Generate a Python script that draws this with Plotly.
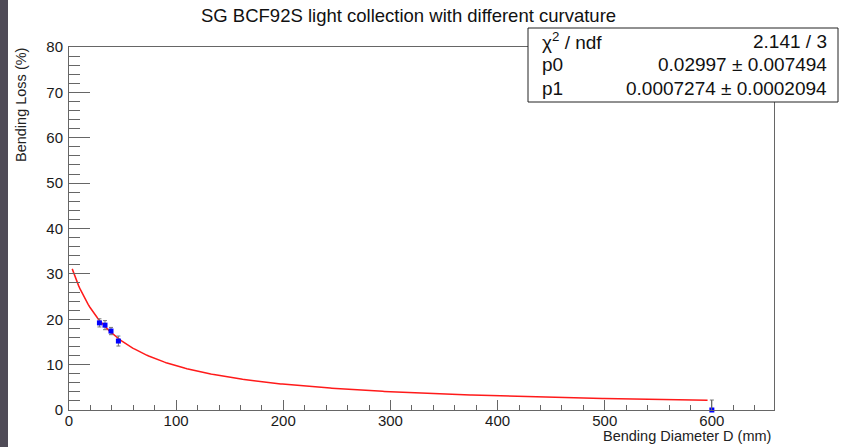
import numpy as np
import plotly.graph_objects as go

# Measured bending loss versus bending diameter
diameter_mm = [28.4, 33.6, 39.2, 46.1, 600.0]
loss_pct = [19.2, 18.7, 17.4, 15.2, 0.0]
loss_err = [0.9, 1.0, 0.8, 1.1, 2.2]

# Fit result: f(D) = 1 / (p0 + p1 * D)
p0, p0_err = 0.02997, 0.007494
p1, p1_err = 0.0007274, 0.0002094
chi2, ndf = 2.141, 3
fit_range = (3.0, 596.0)

x_ticks = [0, 100, 200, 300, 400, 500, 600]
y_ticks = [0, 10, 20, 30, 40, 50, 60, 70, 80]

FONT = "Liberation Sans, Arial, Helvetica, sans-serif"
W, H = 846, 447
ML, MR, MT, MB = 69, 72, 47, 37
PW, PH = W - ML - MR, H - MT - MB


def px(xp):
    return (xp - ML) / PW


def py(yp):
    return (H - MB - yp) / PH


d_fit = np.linspace(fit_range[0], fit_range[1], 400)
f_fit = 1.0 / (p0 + p1 * d_fit)

fig = go.Figure()
fig.add_trace(go.Scatter(
    x=d_fit, y=f_fit, mode="lines",
    line=dict(color="#ff1a1a", width=1.5),
    hoverinfo="skip", showlegend=False,
))
fig.add_trace(go.Scatter(
    x=diameter_mm, y=loss_pct, mode="markers",
    marker=dict(symbol="square", size=5, color="#0000ff"),
    error_y=dict(type="data", array=loss_err, color="#777777",
                 thickness=1, width=2),
    showlegend=False, cliponaxis=False,
))

axis_common = dict(
    showgrid=False, zeroline=False, showline=True, mirror=True,
    linecolor="#666666", linewidth=1, ticks="inside", tickcolor="#666666",
    tickfont=dict(family=FONT, size=15, color="#1a1a1a"),
)
fig.update_xaxes(
    range=[0, 658], tickvals=x_ticks, ticklen=10,
    minor=dict(ticks="inside", dtick=20, ticklen=5, tickcolor="#666666"),
    ticklabelstandoff=-3,
    **axis_common,
)
fig.update_yaxes(
    range=[0, 80], tickvals=y_ticks, ticklen=21,
    minor=dict(ticks="inside", dtick=2, ticklen=11, tickcolor="#666666"),
    ticklabelstandoff=2,
    **axis_common,
)

shapes = [
    # dark strip along the left edge of the canvas
    dict(type="rect", xref="paper", yref="paper",
         x0=px(0), x1=px(8), y0=py(H), y1=py(0),
         fillcolor="#4f4b57", line=dict(width=0), layer="above"),
    # fit statistics box
    dict(type="rect", xref="paper", yref="paper",
         x0=px(528), x1=px(838), y0=py(102), y1=py(28),
         fillcolor="white", line=dict(color="#222222", width=1), layer="above"),
]

stat_font = dict(family=FONT, size=19, color="#111111")
rows = [
    ("χ<sup>2</sup> / ndf", f"{chi2:.3f} / {ndf}"),
    ("p0", f"{p0:.5f} ± {p0_err:.6f}"),
    ("p1", f"{p1:.7f} ± {p1_err:.7f}"),
]
annotations = []
for i, (name, val) in enumerate(rows):
    yc = 41 + 24 * i
    annotations.append(dict(x=px(540), y=py(yc), xref="paper", yref="paper",
                            text=name, showarrow=False, xanchor="left",
                            yanchor="middle", font=stat_font))
    annotations.append(dict(x=px(829), y=py(yc), xref="paper", yref="paper",
                            text=val, showarrow=False, xanchor="right",
                            yanchor="middle", font=stat_font))

annotations += [
    dict(x=px(408), y=py(15), xref="paper", yref="paper",
         text="SG BCF92S light collection with different curvature",
         showarrow=False, xanchor="center", yanchor="middle",
         font=dict(family=FONT, size=18.5, color="#111111")),
    dict(x=px(773), y=py(436), xref="paper", yref="paper",
         text="Bending Diameter D (mm)", showarrow=False,
         xanchor="right", yanchor="middle",
         font=dict(family=FONT, size=14.5, color="#222222")),
    dict(x=px(21), y=py(105), xref="paper", yref="paper",
         text="Bending Loss (%)", showarrow=False, textangle=-90,
         xanchor="center", yanchor="middle",
         font=dict(family=FONT, size=14.5, color="#222222")),
]

fig.update_layout(
    width=W, height=H,
    margin=dict(l=ML, r=MR, t=MT, b=MB, pad=0),
    paper_bgcolor="white", plot_bgcolor="white",
    shapes=shapes, annotations=annotations,
    showlegend=False,
)

fig.write_html("out.html")
